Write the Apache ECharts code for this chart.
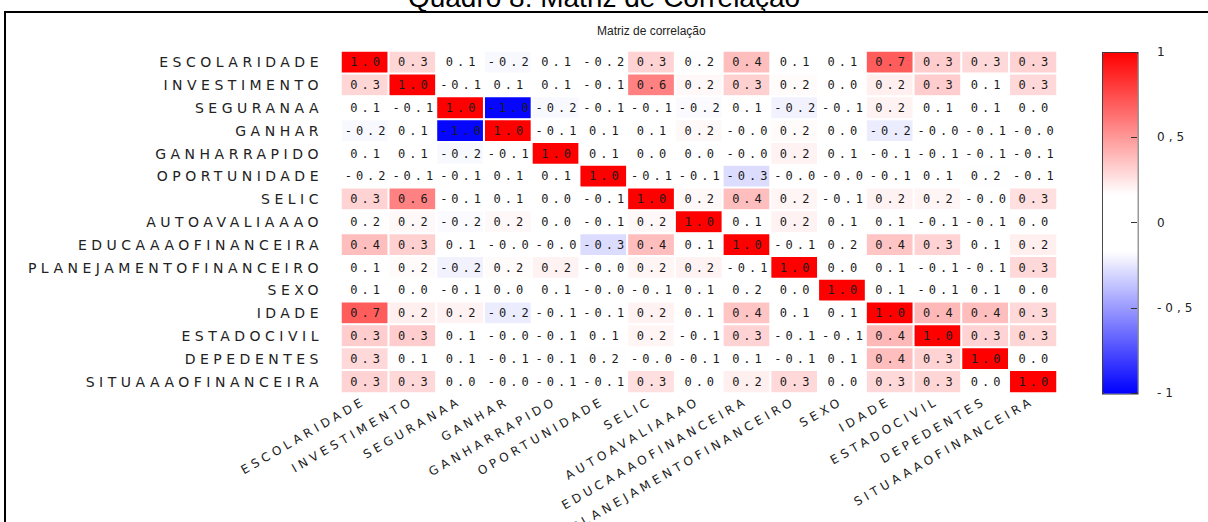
<html>
<head>
    <meta charset="utf-8">
    <title>Matriz de correlação</title>
    <script src="https://cdn.jsdelivr.net/npm/echarts@6/dist/echarts.min.js"></script>
    <style>
        body { margin: 0; background: #fff; }
        /* os rótulos do original são bem espaçados */
        #main text[style*="DejaVu"][style*="14px"] { letter-spacing: 4.5px; }
        #main text[style*="DejaVu"][style*="12px"] { letter-spacing: 4px; }
        #main text[style*="Mono"] { letter-spacing: 4.5px; }
    </style>
</head>
<body>
    <div id="main" style="width: 1208px;height:522px;"></div>
    <script type="text/javascript">
        // variáveis (linhas e colunas)
        var variaveis = ['ESCOLARIDADE', 'INVESTIMENTO', 'SEGURANAA', 'GANHAR', 'GANHARRAPIDO',
            'OPORTUNIDADE', 'SELIC', 'AUTOAVALIAAAO', 'EDUCAAAOFINANCEIRA', 'PLANEJAMENTOFINANCEIRO',
            'SEXO', 'IDADE', 'ESTADOCIVIL', 'DEPEDENTES', 'SITUAAAOFINANCEIRA'];

        // matriz de correlação, uma linha por variável
        var escolaridade = [1, 0.30, 0.07, -0.19, 0.08, -0.16, 0.31, 0.17, 0.38, 0.09, 0.11, 0.70, 0.33, 0.29, 0.31];
        var investimento = [0.30, 1, -0.08, 0.06, 0.10, -0.11, 0.58, 0.19, 0.32, 0.18, 0.03, 0.22, 0.33, 0.12, 0.29];
        var seguranca = [0.07, -0.08, 1, -0.98, -0.19, -0.10, -0.12, -0.18, 0.12, -0.21, -0.07, 0.21, 0.09, 0.10, 0.03];
        var ganhar = [-0.19, 0.06, -0.98, 1, -0.09, 0.07, 0.11, 0.19, -0.03, 0.18, 0.02, -0.23, -0.04, -0.08, -0.03];
        var ganharRapido = [0.08, 0.10, -0.19, -0.09, 1, 0.09, 0.04, 0.02, -0.02, 0.21, 0.06, -0.09, -0.07, -0.10, -0.11];
        var oportunidade = [-0.16, -0.11, -0.10, 0.07, 0.09, 1, -0.12, -0.10, -0.28, -0.04, -0.03, -0.08, 0.11, 0.17, -0.09];
        var selic = [0.31, 0.58, -0.12, 0.11, 0.04, -0.12, 1, 0.19, 0.38, 0.20, -0.06, 0.21, 0.20, -0.03, 0.27];
        var autoavaliacao = [0.17, 0.19, -0.18, 0.19, 0.02, -0.10, 0.19, 1, 0.10, 0.21, 0.06, 0.13, -0.08, -0.07, 0.02];
        var educacao = [0.38, 0.32, 0.12, -0.03, -0.02, -0.28, 0.38, 0.10, 1, -0.09, 0.16, 0.36, 0.31, 0.12, 0.22];
        var planejamento = [0.09, 0.18, -0.21, 0.18, 0.21, -0.04, 0.20, 0.21, -0.09, 1, 0.02, 0.09, -0.08, -0.11, 0.29];
        var sexo = [0.11, 0.03, -0.07, 0.02, 0.06, -0.03, -0.06, 0.06, 0.16, 0.02, 1, 0.08, -0.07, 0.09, 0.02];
        var idade = [0.70, 0.22, 0.21, -0.23, -0.09, -0.08, 0.21, 0.13, 0.36, 0.09, 0.08, 1, 0.40, 0.38, 0.29];
        var estadoCivil = [0.33, 0.33, 0.09, -0.04, -0.07, 0.11, 0.20, -0.08, 0.31, -0.08, -0.07, 0.40, 1, 0.31, 0.30];
        var dependentes = [0.29, 0.12, 0.10, -0.08, -0.10, 0.17, -0.03, -0.07, 0.12, -0.11, 0.09, 0.38, 0.31, 1, 0.04];
        var situacao = [0.31, 0.29, 0.03, -0.03, -0.11, -0.09, 0.27, 0.02, 0.22, 0.29, 0.02, 0.29, 0.30, 0.04, 1];

        var linhas = [escolaridade, investimento, seguranca, ganhar, ganharRapido, oportunidade, selic,
            autoavaliacao, educacao, planejamento, sexo, idade, estadoCivil, dependentes, situacao];

        // marcas da barra de cores
        var escalaTicks = [-1, -0.5, 0, 0.5, 1];

        var dados = [];
        for (var i = 0; i < linhas.length; i++) {
            for (var j = 0; j < linhas[i].length; j++) {
                dados.push([j, i, linhas[i][j]]);
            }
        }

        var myChart = echarts.init(document.getElementById('main'), null, { renderer: 'svg' });

        var option = {
            animation: false,
            title: [
                {
                    // no original o título do quadro aparece cortado no topo
                    text: 'Quadro 8: Matriz de Correlação',
                    left: 'center',
                    top: -22,
                    textStyle: { fontFamily: 'Liberation Sans', fontSize: 28, fontWeight: 'normal', color: '#000' }
                },
                {
                    text: 'Matriz de correlação',
                    left: 592,
                    top: 20,
                    textStyle: { fontFamily: 'Liberation Sans', fontSize: 12, fontWeight: 'normal', color: '#222' }
                }
            ],
            graphic: [
                {
                    type: 'rect',
                    shape: { x: 5, y: 12, width: 1230, height: 540 },
                    style: { fill: 'none', stroke: '#000', lineWidth: 2 },
                    silent: true
                }
            ],
            grid: [
                { left: 341, top: 51, width: 716, height: 342, show: true, borderColor: '#333', borderWidth: 1.5 },
                { left: 1102, top: 52, width: 35, height: 341 }
            ],
            xAxis: [
                {
                    type: 'category',
                    data: variaveis,
                    gridIndex: 0,
                    axisLine: { lineStyle: { color: '#333', width: 1.5 } },
                    axisTick: { alignWithLabel: true, length: 5, lineStyle: { color: '#333' } },
                    axisLabel: {
                        interval: 0,
                        rotate: 30,
                        margin: 7,
                        color: '#222',
                        fontFamily: 'DejaVu Sans',
                        fontSize: 12
                    }
                },
                { type: 'category', data: [''], gridIndex: 1, show: false }
            ],
            yAxis: [
                {
                    type: 'category',
                    data: variaveis,
                    inverse: true,
                    gridIndex: 0,
                    axisLine: { lineStyle: { color: '#333', width: 1.5 } },
                    axisTick: { alignWithLabel: true, length: 5, lineStyle: { color: '#333' } },
                    axisLabel: {
                        interval: 0,
                        margin: 18,
                        color: '#222',
                        fontFamily: 'DejaVu Sans',
                        fontSize: 14
                    }
                },
                {
                    type: 'value',
                    gridIndex: 1,
                    position: 'right',
                    min: -1,
                    max: 1,
                    interval: 0.5,
                    z: 10,
                    splitLine: { show: false },
                    axisLine: { show: false },
                    axisTick: { show: true, inside: true, length: 6, lineStyle: { color: '#333' } },
                    axisLabel: {
                        margin: 20,
                        color: '#222',
                        fontFamily: 'DejaVu Sans',
                        fontSize: 12,
                        formatter: function (v) {
                            return escalaTicks.indexOf(v) >= 0 ? String(v).replace('.', ',') : '';
                        }
                    }
                }
            ],
            visualMap: {
                type: 'continuous',
                min: -1,
                max: 1,
                dimension: 2,
                seriesIndex: 0,
                calculable: false,
                left: 1102,
                top: 52,
                itemWidth: 35,
                itemHeight: 341,
                padding: 0,
                text: null,
                showLabel: false,
                borderColor: '#333',
                borderWidth: 1.5,
                inRange: {
                    color: ['#0000ff', '#3333ff', '#6666ff', '#9999ff', '#ccccff', '#ffffff', '#ffffff',
                        '#ffffff', '#ffcccc', '#ff9999', '#ff6666', '#ff3333', '#ff0000']
                }
            },
            series: [
                {
                    type: 'heatmap',
                    xAxisIndex: 0,
                    yAxisIndex: 0,
                    data: dados,
                    itemStyle: { borderColor: '#fff', borderWidth: 2 },
                    label: {
                        show: true,
                        color: '#1a1a1a',
                        fontFamily: 'DejaVu Sans Mono',
                        fontSize: 12,
                        offset: [2.25, 0],
                        formatter: function (p) {
                            return p.value[2].toFixed(1);
                        }
                    },
                    emphasis: { disabled: true }
                },
                {
                    type: 'scatter',
                    xAxisIndex: 1,
                    yAxisIndex: 1,
                    data: [],
                    silent: true
                }
            ]
        };

        myChart.setOption(option);
    </script>
</body>
</html>
